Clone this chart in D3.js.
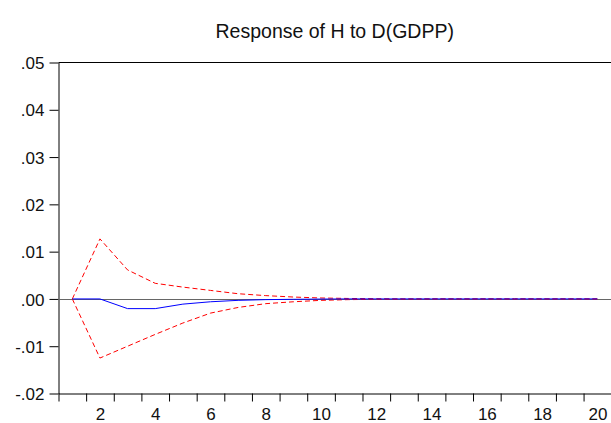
<!DOCTYPE html>
<html>
<head>
<meta charset="utf-8">
<script src="https://cdn.jsdelivr.net/npm/d3@7"></script>
<style>
  body { margin: 0; background: #fff; }
  svg { display: block; font-family: Arial, "Liberation Sans", sans-serif; }
</style>
</head>
<body>
<div id="chart"></div>
<script>
// Données (horizon 1..20)
const periods = d3.range(1, 21)
const response = [0, 0, -0.00205, -0.00205, -0.0011, -0.0006, -0.0003, -0.00015, -0.00008, -0.00003,
    0, 0, 0, 0, 0, 0, 0, 0, 0, 0]
const upperBand = [0, 0.0127, 0.00613, 0.0033, 0.0025, 0.0018, 0.0011, 0.0007, 0.0004, 0.0002,
    0.0001, 0.00005, 0, 0, 0, 0, 0, 0, 0, 0]
const lowerBand = [0, -0.0125, -0.01, -0.0075, -0.0051, -0.003, -0.0018, -0.001, -0.0006, -0.0003,
    -0.00015, -0.00008, -0.00004, 0, 0, 0, 0, 0, 0, 0]
const yTicks = [-0.02, -0.01, 0, 0.01, 0.02, 0.03, 0.04, 0.05]
const xLabels = [2, 4, 6, 8, 10, 12, 14, 16, 18, 20]
const title = 'Response of H to D(GDPP)'

// Dimensions
const width = 611,
    height = 423
const margin = { top: 62.5, right: 0, bottom: 29.5, left: 58.5 }

const svg = d3.select('#chart')
    .append('svg')
    .attr('width', width)
    .attr('height', height)

// Échelles
const x = d3.scaleLinear()
    .domain([0.5, 20.5])
    .range([margin.left, 611.2])

const y = d3.scaleLinear()
    .domain([-0.02, 0.05])
    .range([height - margin.bottom, margin.top])

const fmt = v => (v < 0 ? '-' : '') + Math.abs(v).toFixed(2).slice(1)

// Titre
svg.append('text')
    .attr('x', (margin.left + width) / 2)
    .attr('y', 38)
    .attr('text-anchor', 'middle')
    .style('font-size', '19.5px')
    .attr('fill', '#111')
    .text(title)

// Ligne du haut
svg.append('line')
    .attr('x1', margin.left).attr('x2', width)
    .attr('y1', y(0.05)).attr('y2', y(0.05))
    .attr('stroke', '#000')

// Axe Y
const yAxis = svg.append('g')
    .attr('transform', `translate(${margin.left},0)`)
    .call(d3.axisLeft(y).tickValues(yTicks).tickFormat(fmt).tickSize(9).tickSizeOuter(0))
yAxis.select('.domain').attr('stroke', '#000')
yAxis.selectAll('text')
    .style('font-size', '17px')
    .attr('fill', '#111')
    .attr('x', -14)
    .attr('dy', '0.36em')

// Axe X : traits aux bornes des périodes, étiquettes au centre
const xAxis = svg.append('g')
    .attr('transform', `translate(0,${height - margin.bottom})`)
    .call(d3.axisBottom(x).tickValues(d3.range(0.5, 20, 1)).tickFormat('').tickSize(8).tickSizeOuter(0))
xAxis.select('.domain').attr('stroke', '#000')

const xText = svg.append('g')
    .attr('transform', `translate(0,${height - margin.bottom})`)
    .call(d3.axisBottom(x).tickValues(xLabels).tickFormat(d3.format('d')).tickSize(0))
xText.select('.domain').remove()
xText.selectAll('text')
    .style('font-size', '17px')
    .attr('fill', '#111')
    .attr('y', 14)

// Ligne zéro
svg.append('line')
    .attr('x1', margin.left).attr('x2', width)
    .attr('y1', Math.round(y(0)) + 0.5).attr('y2', Math.round(y(0)) + 0.5)
    .attr('stroke', '#666')

// Courbes
const line = d3.line()
    .x((d, i) => x(periods[i]))
    .y(d => y(d))

svg.append('path')
    .datum(upperBand)
    .attr('d', line)
    .attr('fill', 'none')
    .attr('stroke', '#ff0000')
    .attr('stroke-dasharray', '5,3')

svg.append('path')
    .datum(lowerBand)
    .attr('d', line)
    .attr('fill', 'none')
    .attr('stroke', '#ff0000')
    .attr('stroke-dasharray', '5,3')

svg.append('path')
    .datum(response)
    .attr('d', line)
    .attr('fill', 'none')
    .attr('stroke', '#0000ff')
</script>
</body>
</html>
